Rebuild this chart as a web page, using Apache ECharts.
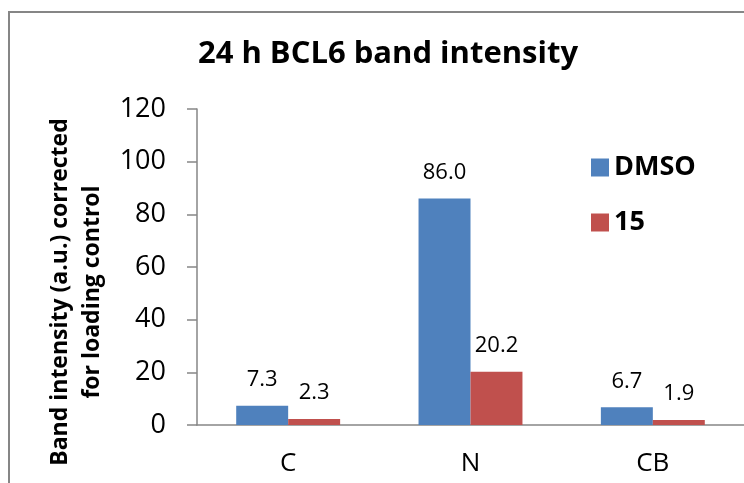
<!DOCTYPE html>
<html>
<head>
<meta charset="utf-8">
<script src="https://cdn.jsdelivr.net/npm/echarts@6/dist/echarts.min.js"></script>
<style>html,body{margin:0;padding:0;background:#fff;}#chart{width:744px;height:483px;}</style>
</head>
<body>
<div id="chart"></div>
<script>
var categories = ['C', 'N', 'CB'];
var dmsoValues = [7.3, 86.0, 6.7];
var cmpd15Values = [2.3, 20.2, 1.9];
var seriesNames = ['DMSO', '15'];
var yTicks = { min: 0, max: 120, interval: 20 };

var FONT = '"Open Sans", "Liberation Sans", sans-serif';
var chart = echarts.init(document.getElementById('chart'), null, { renderer: 'canvas' });
var labelCfg = { show: true, position: 'top', distance: 15, fontSize: 22, color: '#000', fontFamily: FONT,
  formatter: function (p) { return p.value.toFixed(1); } };
chart.setOption({
  animation: false,
  backgroundColor: '#fff',
  graphic: [{ type: 'rect', shape: { x: 9, y: 12, width: 800, height: 600 }, style: { fill: 'none', stroke: '#868686', lineWidth: 2 }, silent: true }],
  title: { text: '24 h BCL6 band intensity', left: 383, top: 34, textAlign: 'center',
    textStyle: { fontFamily: FONT, fontWeight: 'bold', fontSize: 31, color: '#000' } },
  legend: { orient: 'vertical', left: 586, top: 149, itemWidth: 18, itemHeight: 18, itemGap: 28, icon: 'rect',
    textStyle: { fontFamily: FONT, fontWeight: 'bold', fontSize: 27, lineHeight: 18, color: '#000' }, data: seriesNames },
  grid: { left: 197, right: 0, top: 109, bottom: 58, containLabel: false },
  xAxis: { type: 'category', data: categories,
    axisLine: { lineStyle: { color: '#868686', width: 1.5 } }, axisTick: { show: false },
    axisLabel: { fontFamily: FONT, fontSize: 26, color: '#000', margin: 26 } },
  yAxis: { type: 'value', min: yTicks.min, max: yTicks.max, interval: yTicks.interval,
    name: 'Band intensity (a.u.) corrected\nfor loading control', nameLocation: 'middle', nameRotate: 90, nameGap: 89,
    nameTextStyle: { fontFamily: FONT, fontWeight: 'bold', fontSize: 23, color: '#000', lineHeight: 32, padding: [0, 50, 0, 0] },
    axisLine: { show: true, lineStyle: { color: '#868686', width: 1.5 } },
    axisTick: { show: true, length: 10, lineStyle: { color: '#868686', width: 1.5 } },
    splitLine: { show: false },
    axisLabel: { fontFamily: FONT, fontSize: 27, color: '#000', margin: 31 } },
  series: [
    { name: seriesNames[0], type: 'bar', data: dmsoValues, barGap: '0%', barCategoryGap: '43%', itemStyle: { color: '#4F81BD' }, label: labelCfg },
    { name: seriesNames[1], type: 'bar', data: cmpd15Values, itemStyle: { color: '#C0504D' }, label: labelCfg }
  ]
});
</script>
</body>
</html>
